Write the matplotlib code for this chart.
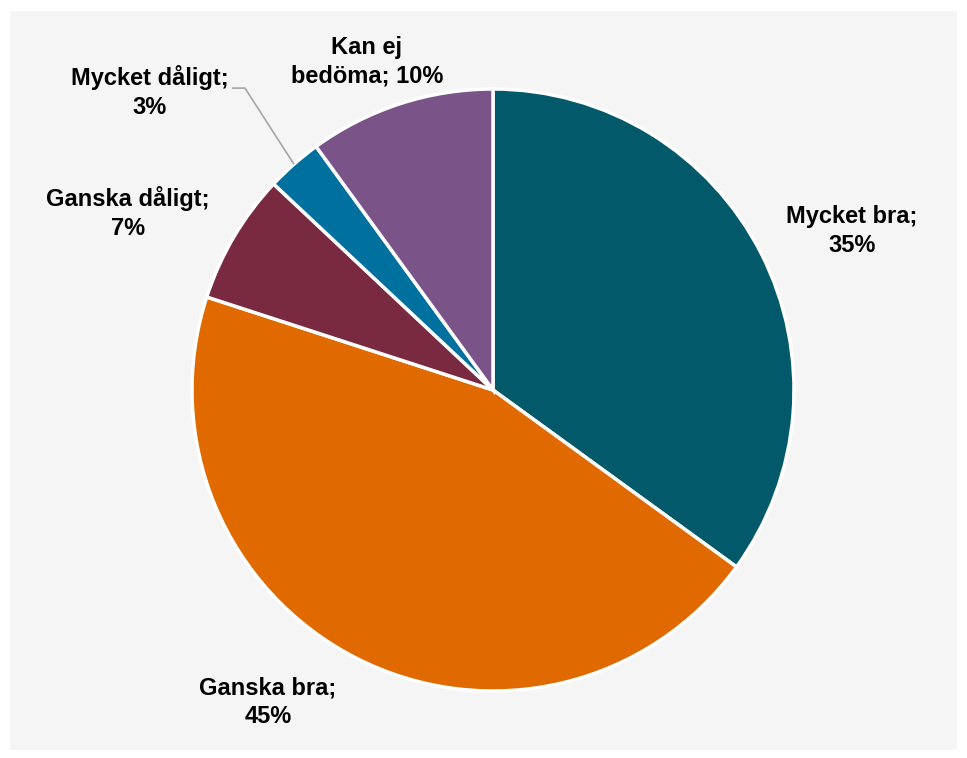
import numpy as np
import matplotlib.pyplot as plt
from matplotlib.patches import Rectangle

categories = ['Mycket bra', 'Ganska bra', 'Ganska dåligt', 'Mycket dåligt', 'Kan ej bedöma']
label_text = ['Mycket bra;\n35%', 'Ganska bra;\n45%', 'Ganska dåligt;\n7%',
              'Mycket dåligt;\n3%', 'Kan ej\nbedöma; 10%']
values = [35, 45, 7, 3, 10]
colors = ['#02596A', '#E06A00', '#7A2A40', '#00709F', '#7A5489']

# label centres in pie-radius units (layout only)
label_xy = [(1.193, 0.528), (-0.748, -1.037), (-1.213, 0.588),
            (-1.140, 0.990), (-0.419, 1.090)]

W, H, DPI = 967, 758, 100
cx, cy, R = 493, 390, 301  # pie centre and radius in pixels

plt.rcParams['font.family'] = ['Liberation Sans', 'DejaVu Sans']

fig = plt.figure(figsize=(W / DPI, H / DPI), dpi=DPI, facecolor='white')

ax = fig.add_axes([0, 0, 1, 1])
ax.set_facecolor('none')
# grey chart panel behind the pie
ax.add_patch(Rectangle((10 / W, 1 - 750 / H), 947 / W, 739 / H,
                       transform=fig.transFigure, facecolor='#F5F5F5',
                       edgecolor='none', zorder=0))

wedges, _ = ax.pie(values, colors=colors, startangle=90, counterclock=False,
                   radius=1.0,
                   wedgeprops=dict(edgecolor='white', linewidth=2.5, zorder=2))

for i, (txt, (x, y)) in enumerate(zip(label_text, label_xy)):
    ax.text(x, y, txt, ha='center', va='center', fontsize=17,
            fontweight='bold', color='black', linespacing=1.3, zorder=3)

# leader line for the small slice
w = wedges[3]
mid = np.deg2rad((w.theta1 + w.theta2) / 2)
ex, ey = np.cos(mid), np.sin(mid)
ax.plot([-0.867, -0.824, ex], [1.003, 1.003, ey], color='#A6A6A6', lw=1.2,
        solid_capstyle='butt', zorder=3)

ax.set_xlim(-cx / R, (W - cx) / R)
ax.set_ylim(-(H - cy) / R, cy / R)
ax.set_aspect('auto')
ax.axis('off')

fig.savefig('out.png', dpi=DPI, facecolor='white')
